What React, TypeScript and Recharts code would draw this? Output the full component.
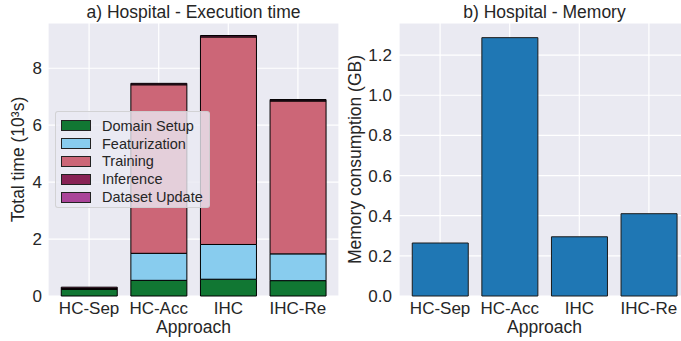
import { BarChart, Bar, XAxis, YAxis, CartesianGrid } from 'recharts'

// Hospital benchmark: execution time breakdown (10^3 s) and peak memory (GB)
const approaches = ['HC-Sep', 'HC-Acc', 'IHC', 'IHC-Re']

const domainSetup = [0.23, 0.55, 0.59, 0.54]
const featurization = [0, 0.95, 1.22, 0.94]
const training = [0.03, 5.92, 7.29, 5.37]
const inference = [0.05, 0.05, 0.05, 0.03]
const datasetUpdate = [0, 0, 0, 0.02]

const memoryGb = [0.264, 1.287, 0.295, 0.41]

const timeTicks = [0, 2, 4, 6, 8]
const memoryTicks = [0, 0.2, 0.4, 0.6, 0.8, 1.0, 1.2]

const STAGES = [
  { key: 'domainSetup', name: 'Domain Setup', color: '#117733' },
  { key: 'featurization', name: 'Featurization', color: '#88CCEE' },
  { key: 'training', name: 'Training', color: '#CC6677' },
  { key: 'inference', name: 'Inference', color: '#882255' },
  { key: 'datasetUpdate', name: 'Dataset Update', color: '#AA4499' },
]

const timeRows = approaches.map((name, i) => ({
  name,
  domainSetup: domainSetup[i],
  featurization: featurization[i],
  training: training[i],
  inference: inference[i],
  datasetUpdate: datasetUpdate[i],
}))

const memoryRows = approaches.map((name, i) => ({ name, memory: memoryGb[i] }))

const FONT = '"Liberation Sans", Arial, sans-serif'
const TEXT = '#262626'
const BG = '#EAEAF2'
const tick = { fontSize: 17, fill: TEXT, fontFamily: FONT }
const labelStyle = { fontSize: 17.5, fill: TEXT, fontFamily: FONT, textAnchor: 'middle' as const }

function Title({ text, center }: { text: string; center: number }) {
  return (
    <div
      style={{
        position: 'absolute',
        top: 4,
        left: center - 150,
        width: 300,
        textAlign: 'center',
        fontSize: 17.5,
        lineHeight: '17px',
        color: TEXT,
        whiteSpace: 'nowrap',
      }}
    >
      {text}
    </div>
  )
}

export default function App() {
  return (
    <div
      style={{
        position: 'fixed',
        left: 0,
        top: 0,
        width: 681,
        height: 341,
        overflow: 'hidden',
        background: '#fff',
        fontFamily: FONT,
      }}
    >
      <Title text="a) Hospital - Execution time" center={193.5} />
      <Title text="b) Hospital - Memory" center={544.5} />

      {/* Stacked execution time */}
      <div style={{ position: 'absolute', left: 0, top: 0 }}>
        <BarChart
          width={340}
          height={341}
          data={timeRows}
          margin={{ top: 23, right: 1, bottom: 0, left: 0 }}
          barCategoryGap="10%"
        >
          <CartesianGrid fill={BG} stroke="#fff" strokeWidth={1.2} />
          <XAxis
            dataKey="name"
            height={45}
            padding={{ left: 6.3, right: 6.3 }}
            axisLine={false}
            tickLine={false}
            tickSize={0}
            tickMargin={6}
            tick={tick}
            interval={0}
            label={{ value: 'Approach', position: 'insideBottom', offset: 8, style: labelStyle }}
          />
          <YAxis
            width={48}
            domain={[0, 9.59]}
            ticks={timeTicks}
            axisLine={false}
            tickLine={false}
            tickSize={0}
            tickMargin={6}
            tick={tick}
            label={{
              value: 'Total time (10³s)',
              angle: -90,
              position: 'insideLeft',
              offset: 18,
              style: labelStyle,
            }}
          />
          {STAGES.map((s) => (
            <Bar
              key={s.key}
              dataKey={s.key}
              name={s.name}
              stackId="t"
              fill={s.color}
              stroke="#000"
              strokeWidth={1}
              isAnimationActive={false}
            />
          ))}
        </BarChart>
      </div>

      {/* Legend box */}
      <div
        style={{
          position: 'absolute',
          left: 55,
          top: 111,
          width: 155,
          height: 97,
          boxSizing: 'border-box',
          background: 'rgba(234,234,242,0.8)',
          border: '1px solid rgba(204,204,204,0.8)',
          borderRadius: 3,
          paddingTop: 5,
        }}
      >
        {STAGES.map((s) => (
          <div
            key={s.key}
            style={{ display: 'flex', alignItems: 'center', height: 17.8, fontSize: 14.5, color: TEXT }}
          >
            <span
              style={{
                display: 'inline-block',
                marginLeft: 5,
                width: 30,
                height: 11,
                boxSizing: 'border-box',
                background: s.color,
                border: '1px solid #222',
              }}
            />
            <span style={{ marginLeft: 11 }}>{s.name}</span>
          </div>
        ))}
      </div>

      {/* Memory consumption */}
      <div style={{ position: 'absolute', left: 340, top: 0 }}>
        <BarChart
          width={350}
          height={341}
          data={memoryRows}
          margin={{ top: 23, right: 0, bottom: 0, left: 0 }}
          barCategoryGap="10%"
        >
          <CartesianGrid fill={BG} stroke="#fff" strokeWidth={1.2} />
          <XAxis
            dataKey="name"
            height={45}
            padding={{ left: 6.3, right: 6.3 }}
            axisLine={false}
            tickLine={false}
            tickSize={0}
            tickMargin={6}
            tick={tick}
            interval={0}
            label={{ value: 'Approach', position: 'insideBottom', offset: 8, style: labelStyle }}
          />
          <YAxis
            width={59}
            domain={[0, 1.36]}
            ticks={memoryTicks}
            tickFormatter={(v: number) => v.toFixed(1)}
            axisLine={false}
            tickLine={false}
            tickSize={0}
            tickMargin={7}
            tick={tick}
            label={{
              value: 'Memory consumption (GB)',
              angle: -90,
              position: 'insideLeft',
              offset: 15,
              style: labelStyle,
            }}
          />
          <Bar dataKey="memory" fill="#1f77b4" stroke="#1a1a1a" strokeWidth={1} isAnimationActive={false} />
        </BarChart>
      </div>
    </div>
  )
}
